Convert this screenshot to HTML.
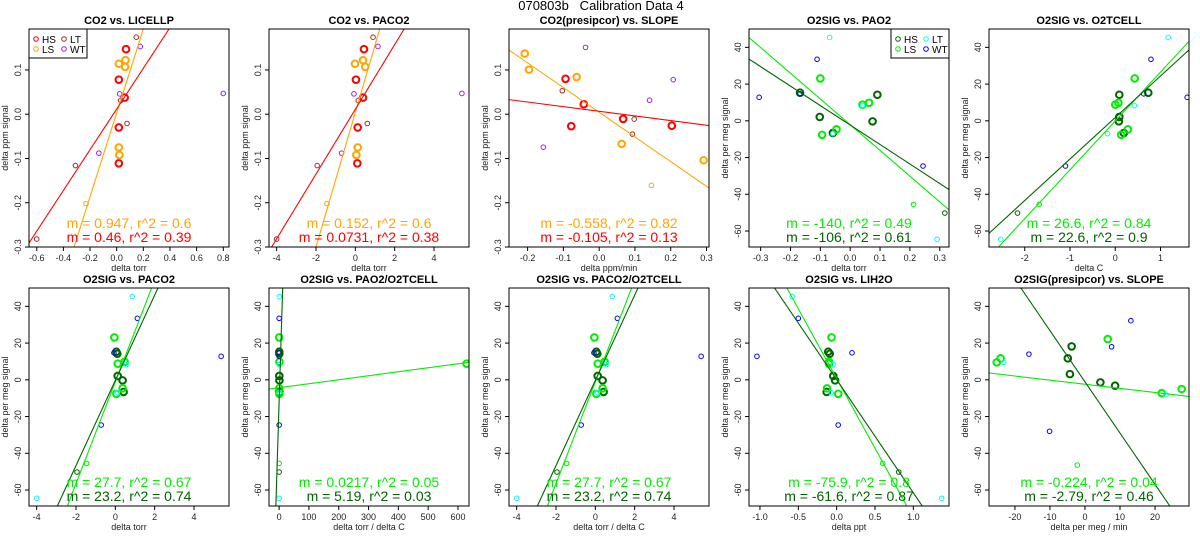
<!DOCTYPE html>
<html><head><meta charset="utf-8"><style>
html,body{margin:0;padding:0;background:#fff;width:1200px;height:550px;overflow:hidden}
svg{display:block;font-family:"Liberation Sans",sans-serif}
</style></head><body>
<svg id="chart" width="1200" height="550" viewBox="0 0 1200 550" xmlns="http://www.w3.org/2000/svg">
<text x="601" y="10" font-size="13" text-anchor="middle" fill="#000" style="white-space:pre" xml:space="preserve">070803b   Calibration Data 4</text>
</svg>
<script>
const co2Groups = ['HS','HS','HS','HS','HS','LS','LS','LS','LS','LS','ls','LT','LT','LT','LT','LT','WT','WT','WT','WT'];
const co2Y = [0.147,0.078,0.0375,-0.03,-0.111, 0.114,0.122,0.107,-0.075,-0.092, -0.202, 0.174,0.031,-0.021,-0.116,-0.282, 0.153,0.046,0.047,-0.088];
const p1X = [0.07,0.016,0.06,0.016,0.016, 0.016,0.066,0.063,0.016,0.02, -0.23, 0.147,0.03,0.078,-0.31,-0.6, 0.177,0.023,0.8,-0.134];
const p2X = [0.44,0.03,0.39,0.12,0.1, -0.02,0.39,0.5,0.12,0.05, -1.44, 0.9,0.15,0.61,-1.94,-4, 1.15,-0.07,5.42,-0.7];
const p3Groups = ['HS','HS','HS','HS','HS','LS','LS','LS','LS','LS','ls','LT','LT','LT','WT','WT','WT','WT'];
const p3X = [-0.094,-0.043,-0.078,0.067,0.203, -0.208,-0.196,-0.063,0.063,0.292, 0.146, -0.103,0.098,0.093, -0.038,0.207,0.141,-0.156];
const p3Y = [0.080,0.0226,-0.027,-0.0106,-0.026, 0.137,0.1007,0.084,-0.067,-0.104, -0.161, 0.053,-0.011,-0.045, 0.151,0.078,0.0316,-0.0745];
const o2Groups = ['HS','HS','HS','HS','HS','hs','LS','LS','LS','LS','LS','ls','LT','LT','LT','LT','WT','WT','WT','WT'];
const o2Y = [15.3,2.1,-6.6,14.2,-0.3, -50.2, 23.1,-7.6,-4.6,8.8,9.8, -45.5, 45.4,-64.5,-7,8.3, 12.8,33.5,14.7,-24.6];
const p4X = [-0.168,-0.102,-0.058,0.091,0.075, 0.317, -0.1,-0.094,-0.046,0.041,0.063, 0.212, -0.069,0.291,-0.058,0.041, -0.305,-0.111,-0.168,0.244];
const p5X = [0.73,0.09,0.19,0.09,0.08, -2.16, 0.43,0.13,0.28,0.0,0.07, -1.68, 1.17,-2.53,-0.17,0.42, 1.59,0.79,0.63,-1.10];
const p6X = [0.05,0.12,0.42,0.1,0.37, -1.95, -0.05,0.05,0.37,0.12,0.47, -1.46, 0.86,-4,0.1,0.56, 5.38,1.12,-0.07,-0.72];
const p7X = [0.5,0.5,0.8,0.6,0.9, 0.2, 0.3,0.8,0.2,629,0.9, 0.1, 0.4,0.1,0.2,0.3, 0.1,0.1,0.2,0.1];
const p9X = [-0.11,-0.044,-0.13,-0.09,-0.02, 0.81, -0.067,0.02,-0.126,-0.1,-0.1, 0.6, -0.58,1.37,-0.07,-0.04, -1.04,-0.5,0.2,0.02];
const p10Groups = ['HS','HS','HS','HS','HS','LS','LS','LS','LS','LS','ls','LT','LT','WT','WT','WT','WT'];
const p10X = [-3.8,-4.9,-4.3,4.4,8.6, -25.2,-24.1,6.5,21.9,27.6, -2.2, -23.2,23.1, -16,13.1,7.6,-10.1];
const p10Y = [18.2,11.7,3.1,-1.4,-3.2, 9.5,11.7,22.2,-7.2,-5, -46.4, 9.5,-8.1, 14,32.2,18,-28];
const fitSlopesCO2 = {p1:[0.947,0.46], p2:[0.152,0.0731], p3:[-0.558,-0.105]};
const fitIntsCO2 = {p1:[0.003,0.0117], p2:[0.004,0.011], p3:[0.0044,0.0065]};
const fitSlopesO2 = {p4:[-140,-106], p5:[26.6,22.6], p6:[27.7,23.2], p7:[0.0217,5.19], p8:[27.7,23.2], p9:[-75.9,-61.6], p10:[-0.224,-2.79]};
const fitIntsO2 = {p4:[-2.1,-2.3], p5:[-0.07,1.8], p6:[-1.1,-0.3], p7:[-4.3,-11.6], p8:[-1.1,-0.3], p9:[0.7,0.1], p10:[-2.4,-1.1]};
const fitLabelsCO2 = {p1:['m = 0.947, r^2 = 0.6','m = 0.46, r^2 = 0.39'], p2:['m = 0.152, r^2 = 0.6','m = 0.0731, r^2 = 0.38'], p3:['m = -0.558, r^2 = 0.82','m = -0.105, r^2 = 0.13']};
const fitLabelsO2 = {p4:['m = -140, r^2 = 0.49','m = -106, r^2 = 0.61'], p5:['m = 26.6, r^2 = 0.84','m = 22.6, r^2 = 0.9'], p6:['m = 27.7, r^2 = 0.67','m = 23.2, r^2 = 0.74'], p7:['m = 0.0217, r^2 = 0.05','m = 5.19, r^2 = 0.03'], p8:['m = 27.7, r^2 = 0.67','m = 23.2, r^2 = 0.74'], p9:['m = -75.9, r^2 = 0.8','m = -61.6, r^2 = 0.87'], p10:['m = -0.224, r^2 = 0.04','m = -2.79, r^2 = 0.46']};
const co2YTicks = [-0.3,-0.2,-0.1,0.0,0.1];
const o2YTicks = [-60,-40,-20,0,20,40];

const NS='http://www.w3.org/2000/svg';
const svg=document.getElementById('chart');
function mk(tag,attrs,parent,txt){const e=document.createElementNS(NS,tag);for(const k in attrs)e.setAttribute(k,attrs[k]);if(txt!==undefined)e.textContent=txt;(parent||svg).appendChild(e);return e;}
const CO2C={HS:'#ff0000',LS:'#ffa500',ls:'#ffa500',hs:'#ff0000',LT:'#a52a2a',WT:'#a020f0'};
const O2C={HS:'#006400',hs:'#006400',LS:'#00ee00',ls:'#00ee00',LT:'#00ffff',WT:'#0000ff'};

function panel(cfg){
  const L=cfg.ox+29,R=cfg.ox+229,T=cfg.oy+29,B=cfg.oy+247;
  const g=mk('g',{});
  
  
  const sx=v=>L+(v-cfg.xlim[0])/(cfg.xlim[1]-cfg.xlim[0])*(R-L);
  const sy=v=>B-(v-cfg.ylim[0])/(cfg.ylim[1]-cfg.ylim[0])*(B-T);
  const cid='clip'+cfg.name;
  const cp=mk('clipPath',{id:cid},g);mk('rect',{x:L,y:T,width:R-L,height:B-T},cp);
  const t=mk('text',{x:(L+R)/2,y:T-5,'font-size':11,'font-weight':'bold','text-anchor':'middle'},g,cfg.title);
  
  cfg.xticks.forEach((v,i)=>{const x=sx(v);mk('line',{x1:x,x2:x,y1:B,y2:B+4,stroke:'#000'},g);
    const tl=mk('text',{x:x,y:B+14,'font-size':9,'text-anchor':'middle',fill:'#222'},g,cfg.xtl[i]);
    });
  cfg.yticks.forEach((v,i)=>{const y=sy(v);mk('line',{x1:L-4,x2:L,y1:y,y2:y,stroke:'#000'},g);
    const tl=mk('text',{x:L-8,y:y,'font-size':9,'text-anchor':'middle',fill:'#222',transform:`rotate(-90 ${L-8} ${y})`},g,cfg.ytl[i]);
    });
  const xt=mk('text',{x:(L+R)/2,y:B+24,'font-size':9,'text-anchor':'middle',fill:'#222'},g,cfg.xlabel);
  
  const yx=cfg.ox+8,yy=(T+B)/2;
  const yt=mk('text',{x:yx,y:yy,'font-size':9,'text-anchor':'middle',fill:'#222',transform:`rotate(-90 ${yx} ${yy})`},g,cfg.ylabel);
  
  const cg=mk('g',{'clip-path':`url(#${cid})`},g);
  cfg.x.forEach((xv,i)=>{const gr=cfg.groups[i];const big=(gr==='HS'||gr==='LS');
    const c=mk('circle',{cx:sx(xv),cy:sy(cfg.y[i]),r:big?3.3:2.3,fill:'none',stroke:cfg.colors[gr],'stroke-width':big?2:1},cg);
    });
  cfg.m.forEach((m,i)=>{const b=cfg.b[i];
    let x0=cfg.xlim[0],x1=cfg.xlim[1];
    if(m!==0){const xa=(cfg.ylim[0]-b)/m,xb=(cfg.ylim[1]-b)/m;
      x0=Math.max(x0,Math.min(xa,xb));x1=Math.min(x1,Math.max(xa,xb));}
    const ln=mk('line',{x1:sx(x0),y1:sy(m*x0+b),x2:sx(x1),y2:sy(m*x1+b),stroke:cfg.lineColors[i],'stroke-width':1.1},cg);
    });
  cfg.labels.forEach((s,i)=>{const tx=mk('text',{x:(L+R)/2,y:B-19+i*14,'font-size':14,'text-anchor':'middle',fill:cfg.lineColors[i]},g,s);
    });
  mk('rect',{x:L,y:T,width:R-L,height:B-T,fill:'none',stroke:'#000','stroke-width':1},g);
  if(cfg.legend){const lx=cfg.legend==='left'?L:R-58;
    const lg=mk('g',{},g);
    mk('rect',{x:lx,y:T,width:58,height:29,fill:'#fff',stroke:'#000'},lg);
    [['HS',0,0],['LT',1,0],['LS',0,1],['WT',1,1]].forEach(([k,c,r])=>{
      const ex=lx+7+c*28,ey=T+10+r*10;
      mk('circle',{cx:ex,cy:ey,r:2.3,fill:'none',stroke:cfg.colors[k]},lg);
      const lt=mk('text',{x:ex+6,y:ey+4,'font-size':10},lg,k);
      });}
}
const fmt=(a,d)=>a.map(v=>v.toFixed(d));
const co2Base={ylim:[-0.3,0.1925],yticks:co2YTicks,ytl:fmt(co2YTicks,1),ylabel:'delta ppm signal',colors:CO2C,lineColors:['#ffa500','#ff0000']};
const o2Base={ylim:[-68.7,50],yticks:o2YTicks,ytl:fmt(o2YTicks,0),ylabel:'delta per meg signal',colors:O2C,lineColors:['#00ee00','#006400']};
const t1=[-0.6,-0.4,-0.2,0,0.2,0.4,0.6,0.8], t2=[-4,-2,0,2,4], t3=[-0.2,-0.1,0,0.1,0.2,0.3], t4=[-0.3,-0.2,-0.1,0,0.1,0.2,0.3];
const t5=[-2,-1,0,1], t7=[0,100,200,300,400,500,600], t9=[-1,-0.5,0,0.5,1], t10=[-20,-10,0,10,20];
panel(Object.assign({},co2Base,{name:'panel-co2-licellp',ox:0,oy:0,title:'CO2 vs. LICELLP',xlim:[-0.658,0.843],xticks:t1,xtl:fmt(t1,1),xlabel:'delta torr',x:p1X,y:co2Y,groups:co2Groups,m:fitSlopesCO2.p1,b:fitIntsCO2.p1,labels:fitLabelsCO2.p1,legend:'left'}));
panel(Object.assign({},co2Base,{name:'panel-co2-paco2',ox:240,oy:0,title:'CO2 vs. PACO2',xlim:[-4.39,5.78],xticks:t2,xtl:fmt(t2,0),xlabel:'delta torr',x:p2X,y:co2Y,groups:co2Groups,m:fitSlopesCO2.p2,b:fitIntsCO2.p2,labels:fitLabelsCO2.p2}));
panel(Object.assign({},co2Base,{name:'panel-co2-slope',ox:480,oy:0,title:'CO2(presipcor) vs. SLOPE',xlim:[-0.252,0.307],xticks:t3,xtl:fmt(t3,1),xlabel:'delta ppm/min',x:p3X,y:p3Y,groups:p3Groups,m:fitSlopesCO2.p3,b:fitIntsCO2.p3,labels:fitLabelsCO2.p3}));
panel(Object.assign({},o2Base,{name:'panel-o2-pao2',ox:720,oy:0,title:'O2SIG vs. PAO2',xlim:[-0.339,0.331],xticks:t4,xtl:fmt(t4,1),xlabel:'delta torr',x:p4X,y:o2Y,groups:o2Groups,m:fitSlopesO2.p4,b:fitIntsO2.p4,labels:fitLabelsO2.p4,legend:'right'}));
panel(Object.assign({},o2Base,{name:'panel-o2-o2tcell',ox:960,oy:0,title:'O2SIG vs. O2TCELL',xlim:[-2.79,1.63],xticks:t5,xtl:fmt(t5,0),xlabel:'delta C',x:p5X,y:o2Y,groups:o2Groups,m:fitSlopesO2.p5,b:fitIntsO2.p5,labels:fitLabelsO2.p5}));
panel(Object.assign({},o2Base,{name:'panel-o2-paco2',ox:0,oy:259,title:'O2SIG vs. PACO2',xlim:[-4.39,5.78],xticks:t2,xtl:fmt(t2,0),xlabel:'delta torr',x:p6X,y:o2Y,groups:o2Groups,m:fitSlopesO2.p6,b:fitIntsO2.p6,labels:fitLabelsO2.p6}));
panel(Object.assign({},o2Base,{name:'panel-o2-pao2-o2tcell',ox:240,oy:259,title:'O2SIG vs. PAO2/O2TCELL',xlim:[-34,637],xticks:t7,xtl:fmt(t7,0),xlabel:'delta torr / delta C',x:p7X,y:o2Y,groups:o2Groups,m:fitSlopesO2.p7,b:fitIntsO2.p7,labels:fitLabelsO2.p7}));
panel(Object.assign({},o2Base,{name:'panel-o2-paco2-o2tcell',ox:480,oy:259,title:'O2SIG vs. PACO2/O2TCELL',xlim:[-4.39,5.78],xticks:t2,xtl:fmt(t2,0),xlabel:'delta torr / delta C',x:p6X,y:o2Y,groups:o2Groups,m:fitSlopesO2.p8,b:fitIntsO2.p8,labels:fitLabelsO2.p8}));
panel(Object.assign({},o2Base,{name:'panel-o2-lih2o',ox:720,oy:259,title:'O2SIG vs. LIH2O',xlim:[-1.143,1.465],xticks:t9,xtl:fmt(t9,1),xlabel:'delta ppt',x:p9X,y:o2Y,groups:o2Groups,m:fitSlopesO2.p9,b:fitIntsO2.p9,labels:fitLabelsO2.p9}));
panel(Object.assign({},o2Base,{name:'panel-o2-slope',ox:960,oy:259,title:'O2SIG(presipcor) vs. SLOPE',xlim:[-27.4,29.7],xticks:t10,xtl:fmt(t10,0),xlabel:'delta per meg / min',x:p10X,y:p10Y,groups:p10Groups,m:fitSlopesO2.p10,b:fitIntsO2.p10,labels:fitLabelsO2.p10}));
</script>
</body></html>
